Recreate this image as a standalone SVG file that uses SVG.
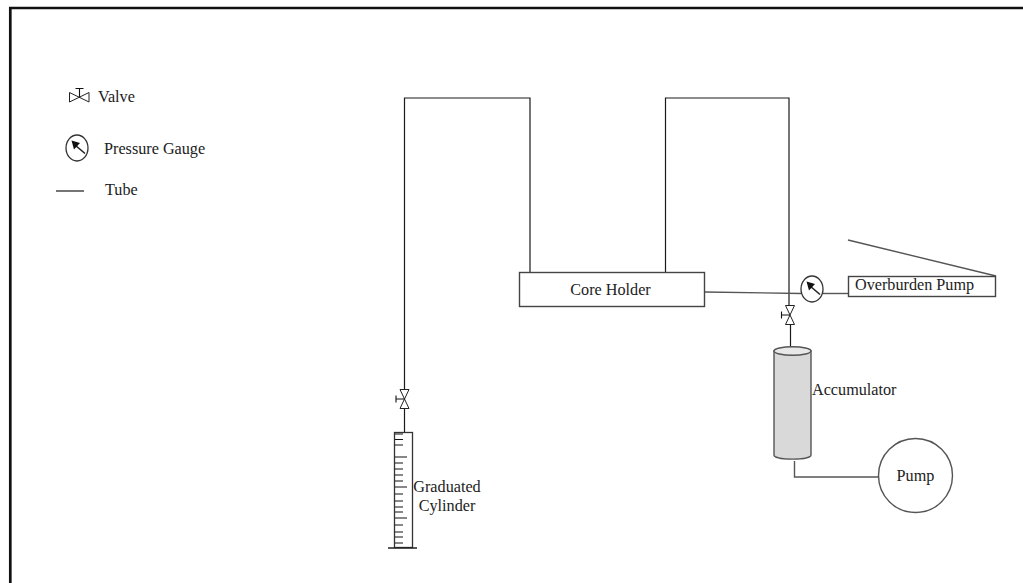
<svg xmlns="http://www.w3.org/2000/svg" width="1023" height="583" viewBox="0 0 1023 583">
<style>
text{font-family:"Liberation Serif","Times New Roman",serif;font-size:16.2px;fill:#222}
.l{fill:none;stroke:#1a1a1a;stroke-width:1.2}
.g{fill:none;stroke:#555;stroke-width:1.4}
.b{fill:#fff;stroke:#444;stroke-width:1.4}
.v{fill:#fff;stroke:#222;stroke-width:1}
.t{stroke:#111;stroke-width:1.1}
</style>
<defs>
<g id="gauge"><ellipse cx="0" cy="0" rx="11" ry="13" fill="#fff" stroke="#333" stroke-width="1.3"/><path d="M8 5.500L-2 -3" stroke="#222" stroke-width="1.6"/><path d="M-5.500 -7.500L3 -5L-3 1.500Z" fill="#111"/></g>
<g id="valveV"><path class="v" d="M-4.500 -9.500H4.500L-4.500 9.500H4.500Z"/><path class="t" d="M0 0H-8.500M-8.500 -3.500V3.500"/></g>
</defs>
<rect width="1023" height="583" fill="#fff"/>
<g id="frame"><path d="M10.300 583V8H1023" fill="none" stroke="#111" stroke-width="2.700"/></g>
<g id="connectors">
<path class="l" d="M404.500 389V98H530V273"/>
<path class="l" d="M665.500 273V98H789V306"/>
<path class="g" d="M705 292L801 293.500"/>
<path class="g" d="M822 293.500H849"/>
<path class="g" d="M848 240L996 276"/>
<path class="l" d="M790.500 324V347"/>
<path class="l" d="M404.500 408V433"/>
<path class="g" d="M794.500 461V477H882"/>
<path class="l" d="M56 191H84"/>
</g>
<g id="legend-valve"><path class="v" d="M69.500 92.500V102L89 92.500V102Z"/><path class="t" d="M79.500 97V88.500M75.500 88.500H83.500"/><text x="98" y="102">Valve</text></g>
<g id="legend-gauge"><use href="#gauge" transform="translate(77 148)"/><text x="104" y="154">Pressure Gauge</text></g>
<g id="legend-tube"><text x="105" y="195">Tube</text></g>
<g id="core-holder"><rect class="b" x="519.500" y="272.500" width="185" height="34"/><text x="610.500" y="295" text-anchor="middle">Core Holder</text></g>
<g id="gauge-main"><use href="#gauge" transform="translate(812 289)"/></g>
<g id="overburden-pump"><rect class="b" x="848.500" y="276.500" width="147" height="20"/><text x="855" y="290">Overburden Pump</text></g>
<g id="valve-main"><use href="#valveV" transform="translate(790 315)"/></g>
<g id="valve-cylinder"><use href="#valveV" transform="translate(404.500 399)"/></g>
<g id="accumulator"><path d="M774 351V455C774 460.500 811 460.500 811 455V351Z" fill="#d9d9d9" stroke="#555" stroke-width="1.400"/><ellipse cx="792.500" cy="351" rx="18.500" ry="4.300" fill="#e8e8e8" stroke="#555" stroke-width="1.400"/><text x="812" y="395">Accumulator</text></g>
<g id="pump"><circle cx="915.500" cy="475.500" r="37" fill="#fff" stroke="#555" stroke-width="1.400"/><text x="915.500" y="481" text-anchor="middle">Pump</text></g>
<g id="graduated-cylinder"><rect x="394.500" y="432.500" width="18" height="115" fill="#fff" stroke="#333" stroke-width="1.300"/>
<path class="t" d="M395 434H403M395 439.500H403M395 445H403M395 457H407M395 463H403M395 469H403M395 475H403M395 481H403M395 487H407M395 494H403M395 501H403M395 507H403M395 512H403M395 518H407M395 525H403M395 532H403M395 537H403M395 543H403"/>
<path d="M388 548H417" stroke="#222" stroke-width="1.500"/>
<text x="447" y="492" text-anchor="middle">Graduated</text><text x="447" y="511" text-anchor="middle">Cylinder</text></g>
</svg>
